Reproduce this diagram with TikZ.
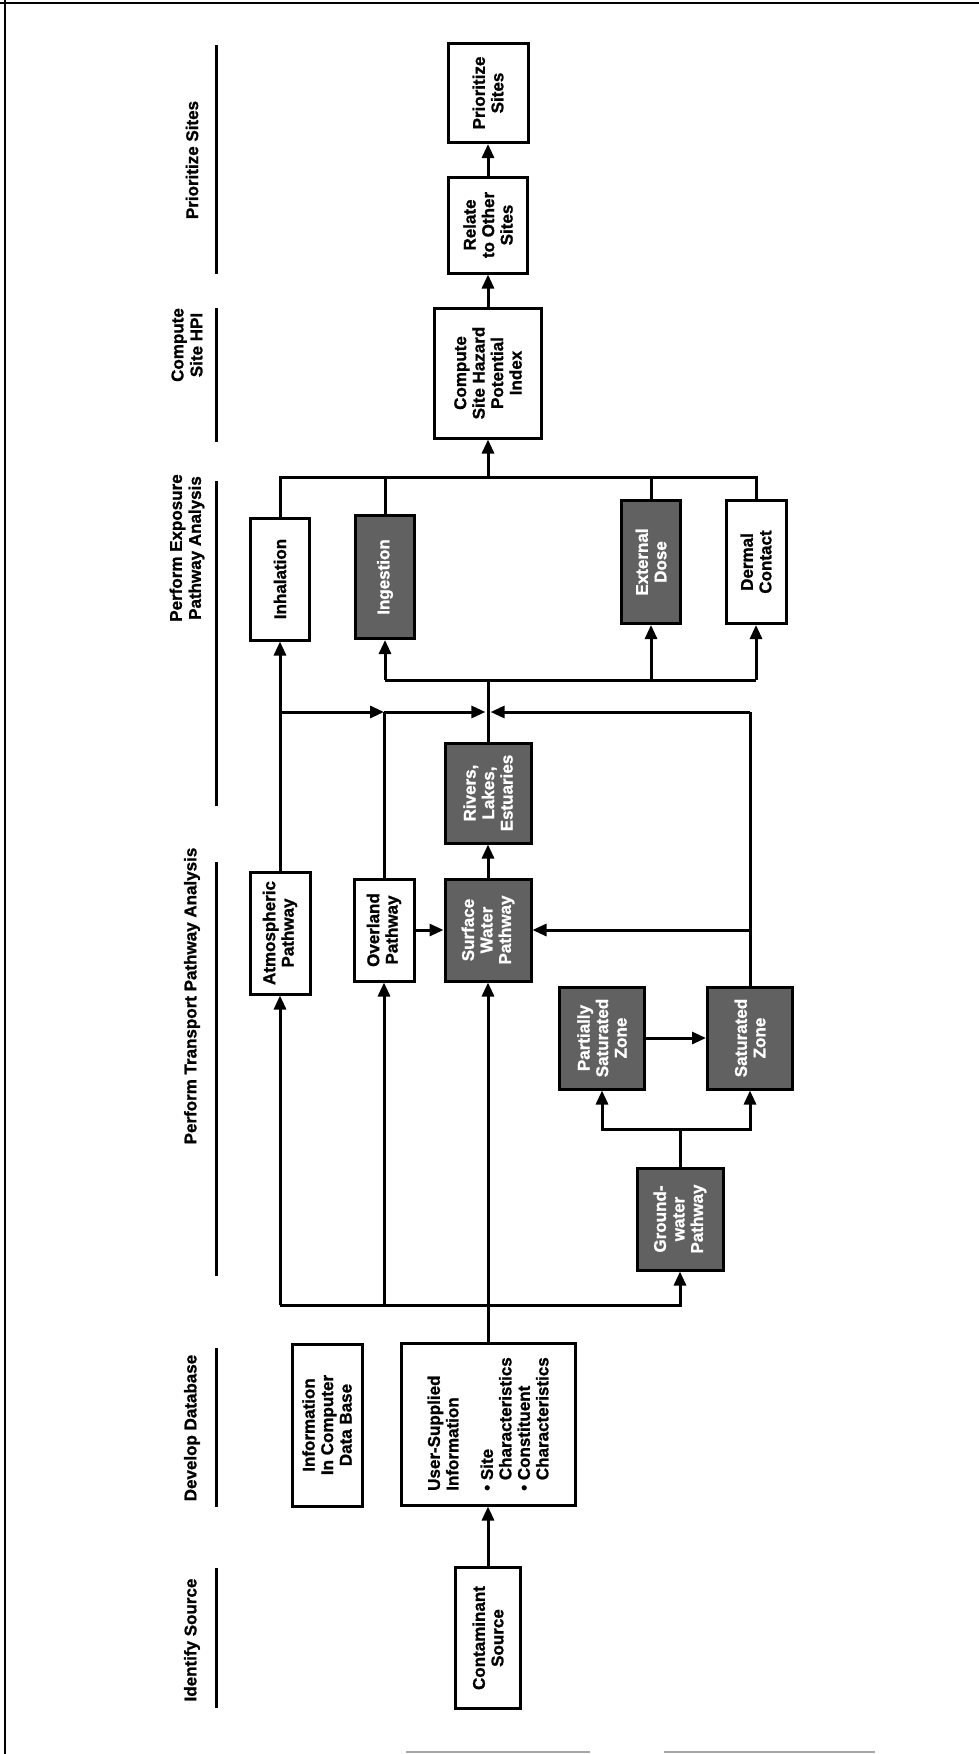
\documentclass[tikz,border=0pt]{standalone}
\usepackage{fontspec}
\setmainfont{Liberation Sans}[BoldFeatures={FakeBold=1.2}]
\usetikzlibrary{arrows.meta}
\begin{document}
\begin{tikzpicture}[x=1pt,y=-1pt,
  box/.style={draw, line width=3pt, inner sep=0pt, fill=white},
  sbox/.style={box, fill=black!62},
  lbl/.style={rotate=90, align=center, font=\bfseries\fontsize{17}{18.5}\selectfont, inner sep=0pt},
  slbl/.style={lbl, text=white},
  hdr/.style={rotate=90, align=center, font=\bfseries\fontsize{17}{19}\selectfont, inner sep=0pt},
  con/.style={line width=3pt},
  arr/.style={con, -{Triangle[length=14pt,width=12pt]}},
  hline/.style={line width=3pt},
]
\useasboundingbox (0,0) rectangle (979,1754);
% frame
\draw[line width=2pt] (0,3) -- (979,3);
\draw[line width=2pt] (5,0) -- (5,1754);
\draw[line width=1.5pt, black!35] (406,1752) -- (590,1752);
\draw[line width=1.5pt, black!35] (664,1752) -- (875,1752);

% headers
\node[hdr] (hPri) at (192,160) {Prioritize Sites};
\node[hdr] (hComp) at (187,345) {Compute\\Site HPI};
\node[hdr] (hExp) at (187,548) {Perform Exposure\\Pathway Analysis};
\node[hdr] (hTra) at (192,996) {Perform Transport Pathway Analysis};
\node[hdr] (hDev) at (192,1428) {Develop Database};
\node[hdr] (hId) at (192,1640) {Identify Source};
\coordinate (l1a) at (216,45);   \coordinate (l1b) at (216,274);
\coordinate (l2a) at (216,308);  \coordinate (l2b) at (216,442);
\coordinate (l3a) at (216,481);  \coordinate (l3b) at (216,806);
\coordinate (l4a) at (216,862);  \coordinate (l4b) at (216,1276);
\coordinate (l5a) at (216,1348); \coordinate (l5b) at (216,1507);
\coordinate (l6a) at (216,1568); \coordinate (l6b) at (216,1708);
\foreach \a/\b in {l1a/l1b,l2a/l2b,l3a/l3b,l4a/l4b,l5a/l5b,l6a/l6b}
  \draw[hline] (\a) -- (\b);

% boxes
\node[box, minimum width=65pt, minimum height=141pt] (src) at (488,1638) {};
\node[lbl] at (src) {Contaminant\\Source};
\node[box, minimum width=174pt, minimum height=162pt] (user) at (488,1424) {};
\node[lbl, align=left] at (user) {User-Supplied\\Information\\[16pt]\textbullet\ Site\\\phantom{\textbullet\ }Characteristics\\\textbullet\ Constituent\\\phantom{\textbullet\ }Characteristics};
\node[box, minimum width=70pt, minimum height=162pt] (info) at (327,1425) {};
\node[lbl] at (info) {Information\\In Computer\\Data Base};

\node[box, minimum width=60pt, minimum height=122pt] (atm) at (280,933) {};
\node[lbl] at (atm) {Atmospheric\\Pathway};
\node[box, minimum width=60pt, minimum height=102pt] (over) at (384,930) {};
\node[lbl] at (over) {Overland\\Pathway};
\node[sbox, minimum width=86pt, minimum height=102pt] (surf) at (488,930) {};
\node[slbl] at (surf) {Surface\\Water\\Pathway};
\node[sbox, minimum width=86pt, minimum height=100pt] (river) at (488,793) {};
\node[slbl] at (river) {Rivers,\\Lakes,\\Estuaries};
\node[sbox, minimum width=86pt, minimum height=102pt] (gw) at (680,1219) {};
\node[slbl] at (gw) {Ground-\\water\\Pathway};
\node[sbox, minimum width=85pt, minimum height=102pt] (psat) at (602,1038) {};
\node[slbl] at (psat) {Partially\\Saturated\\Zone};
\node[sbox, minimum width=85pt, minimum height=102pt] (sat) at (750,1038) {};
\node[slbl] at (sat) {Saturated\\Zone};

\node[box, minimum width=59pt, minimum height=122pt] (inh) at (280,579) {};
\node[lbl] at (inh) {Inhalation};
\node[sbox, minimum width=59pt, minimum height=123pt] (ing) at (385,577) {};
\node[slbl] at (ing) {Ingestion};
\node[sbox, minimum width=59pt, minimum height=123pt] (ext) at (651,562) {};
\node[slbl] at (ext) {External\\Dose};
\node[box, minimum width=60pt, minimum height=123pt] (derm) at (756,562) {};
\node[lbl] at (derm) {Dermal\\Contact};

\node[box, minimum width=107pt, minimum height=130pt] (comp) at (488,373) {};
\node[lbl] at (comp) {Compute\\Site Hazard\\Potential\\Index};
\node[box, minimum width=79pt, minimum height=96pt] (rel) at (488,225) {};
\node[lbl] at (rel) {Relate\\to Other\\Sites};
\node[box, minimum width=80pt, minimum height=99pt] (pri) at (488,93) {};
\node[lbl] at (pri) {Prioritize\\Sites};

% bus coordinates
\coordinate (tb) at (0,477);
\coordinate (lb) at (0,680);
\coordinate (ar) at (0,712);
\coordinate (gb) at (0,1129);
\coordinate (sb) at (0,1305);
\coordinate (jc) at (river.north|-ar);

% exposure to HPI
\draw[con] (inh.north) -- (inh.north|-tb) -- (derm.north|-tb) -- (derm.north);
\draw[con] (ing.north) -- (ing.north|-tb);
\draw[con] (ext.north) -- (ext.north|-tb);
\draw[arr] (comp.south|-tb) -- (comp.south);
\draw[arr] (comp.north) -- (rel.south);
\draw[arr] (rel.north) -- (pri.south);

% transport to exposure
\draw[con] (river.north) -- (river.north|-lb);
\draw[con] (ing.south|-lb) -- (derm.south|-lb);
\draw[arr] (ing.south|-lb) -- (ing.south);
\draw[arr] (ext.south|-lb) -- (ext.south);
\draw[arr] (derm.south|-lb) -- (derm.south);
\draw[arr] (atm.north) -- (inh.south);
\draw[arr] (atm.north|-ar) -- (over.north|-ar);
\draw[arr, shorten >=2.6pt] (over.north|-ar) -- (jc);
\draw[con] (over.north) -- (over.north|-ar);
\draw[con] (sat.north) -- (sat.north|-ar);
\draw[arr, shorten >=2.6pt] (sat.north|-ar) -- (jc);
\draw[arr] (sat.north|-surf.east) -- (surf.east);
\draw[arr] (over.east) -- (surf.west);
\draw[arr] (surf.north) -- (river.south);

% source and database
\draw[arr] (src.north) -- (user.south);
\draw[arr] (user.north) -- (surf.south);
\draw[arr] (atm.south|-sb) -| (gw.south);
\draw[arr] (atm.south|-sb) -- (atm.south);
\draw[arr] (over.south|-sb) -- (over.south);
\draw[con] (gw.north) -- (gw.north|-gb);
\draw[arr] (gw.north|-gb) -| (psat.south);
\draw[arr] (gw.north|-gb) -| (sat.south);
\draw[arr] (psat.east) -- (sat.west);
\end{tikzpicture}
\end{document}
